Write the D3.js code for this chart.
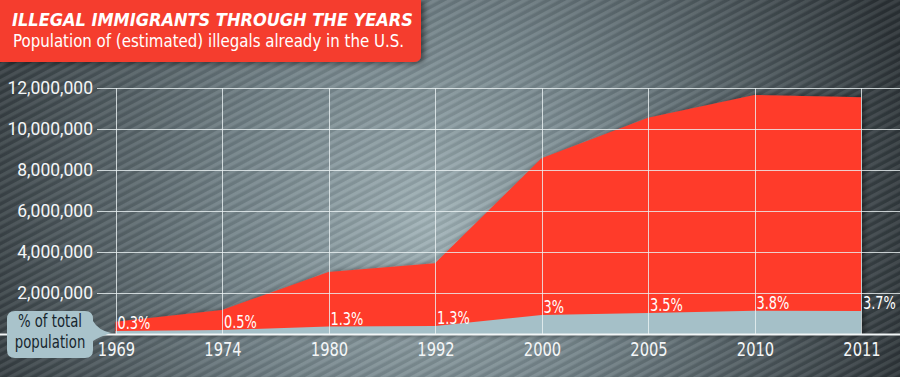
<!DOCTYPE html>
<html>
<head>
<meta charset="utf-8">
<script src="https://cdn.jsdelivr.net/npm/d3@7"></script>
<style>
    body { margin: 0; background: #3a4348; }
    svg { display: block; }
</style>
</head>
<body>
<div class="vis-area"></div>
<script>
// Data
const years = ['1969', '1974', '1980', '1992', '2000', '2005', '2010', '2011'];
const illegals = [600000, 1170000, 3030000, 3450000, 8570000, 10550000, 11660000, 11550000];
// height of the light-blue "% of total population" band, in the same units
const shareBand = [150000, 200000, 360000, 390000, 930000, 1020000, 1140000, 1120000];
const shareLabels = ['0.3%', '0.5%', '1.3%', '1.3%', '3%', '3.5%', '3.8%', '3.7%'];
const yTicks = [2000000, 4000000, 6000000, 8000000, 10000000, 12000000];

const width = 900, height = 377;
const RED = '#ff3b2c', BLUE = '#a5c0c8';
const narrow = '"DejaVu Sans Condensed", "DejaVu Sans", sans-serif';
const squeeze = 0.82; // no condensed face installed, squeeze the glyphs a bit

let svg = d3.select('.vis-area')
    .append('svg')
    .attr('width', width)
    .attr('height', height);

const defs = svg.append('defs');

// background
let bg = defs.append('radialGradient')
    .attr('id', 'bgGrad')
    .attr('gradientUnits', 'userSpaceOnUse')
    .attr('cx', 430).attr('cy', 225).attr('r', 500);
bg.append('stop').attr('offset', 0).attr('stop-color', '#a0b2b7');
bg.append('stop').attr('offset', 0.4).attr('stop-color', '#728288');
bg.append('stop').attr('offset', 1).attr('stop-color', '#2b3236');

let stripes = defs.append('pattern')
    .attr('id', 'stripes')
    .attr('patternUnits', 'userSpaceOnUse')
    .attr('width', 7).attr('height', 7)
    .attr('patternTransform', 'rotate(-28)');
stripes.append('rect')
    .attr('width', 7).attr('height', 3.5)
    .attr('fill', 'rgba(255,255,255,0.08)');
stripes.append('rect')
    .attr('y', 3.5).attr('width', 7).attr('height', 3.5)
    .attr('fill', 'rgba(0,0,0,0.07)');

let shadow = defs.append('filter').attr('id', 'shadow')
    .attr('x', '-10%').attr('y', '-10%').attr('width', '130%').attr('height', '130%');
shadow.append('feDropShadow')
    .attr('dx', 3).attr('dy', 1).attr('stdDeviation', 3)
    .attr('flood-color', '#000').attr('flood-opacity', 0.55);

svg.append('rect').attr('width', width).attr('height', height).attr('fill', 'url(#bgGrad)');
svg.append('rect').attr('width', width).attr('height', height).attr('fill', 'url(#stripes)');

// Scales
var x = d3.scalePoint()
    .domain(years)
    .range([115.5, 861]);

var y = d3.scaleLinear()
    .domain([0, 12000000])
    .range([334, 88]);

const rows = years.map((d, i) => ({ year: d, total: illegals[i], share: shareBand[i], label: shareLabels[i] }));

var redArea = d3.area()
    .x(d => x(d.year))
    .y0(y(0))
    .y1(d => y(d.total));

var blueArea = d3.area()
    .x(d => x(d.year))
    .y0(y(0))
    .y1(d => y(d.share));

svg.append('path')
    .attr('d', redArea(rows))
    .attr('fill', RED)
    .attr('filter', 'url(#shadow)');

svg.append('path')
    .attr('d', blueArea(rows))
    .attr('fill', BLUE);

// grid
let grid = svg.append('g').attr('class', 'grid')
    .attr('stroke', 'rgba(235,242,244,0.8)')
    .attr('stroke-width', 1);

grid.selectAll('.hline')
    .data(yTicks)
    .join('line')
    .attr('class', 'hline')
    .attr('x1', 97).attr('x2', width)
    .attr('y1', d => Math.round(y(d)) + 0.5)
    .attr('y2', d => Math.round(y(d)) + 0.5);

grid.selectAll('.vline')
    .data(years)
    .join('line')
    .attr('class', 'vline')
    .attr('x1', d => Math.round(x(d)) + 0.5)
    .attr('x2', d => Math.round(x(d)) + 0.5)
    .attr('y1', y(12000000))
    .attr('y2', y(0));

// baseline
svg.append('line')
    .attr('x1', 0).attr('x2', width)
    .attr('y1', y(0) + 0.5).attr('y2', y(0) + 0.5)
    .attr('stroke', '#f2f5f6')
    .attr('stroke-width', 2);

// y axis labels
svg.append('g')
    .selectAll('text')
    .data(yTicks)
    .join('text')
    .attr('x', 93)
    .attr('y', d => y(d))
    .attr('dy', '0.35em')
    .attr('text-anchor', 'end')
    .attr('fill', '#f4f6f7')
    .style('font-family', 'Roboto, sans-serif')
    .style('font-size', '17.5px')
    .text(d => d3.format(',')(d));

// x axis labels
svg.append('g')
    .selectAll('text')
    .data(years)
    .join('text')
    .attr('transform', d => 'translate(' + (x(d) + 1) + ',356) scale(' + 0.86 + ',1)')
    .attr('text-anchor', 'middle')
    .attr('fill', '#f4f6f7')
    .style('font-family', narrow)
    .style('font-size', '19px')
    .text(d => d);

// share labels
svg.append('g')
    .selectAll('text')
    .data(rows)
    .join('text')
    .attr('transform', d => 'translate(' + (x(d.year) + 2) + ',' + (y(d.share) - 2) + ') scale(' + 0.8 + ',1)')
    .attr('fill', '#fff')
    .style('font-family', narrow)
    .style('font-size', '18px')
    .text(d => d.label);

// callout
let callout = svg.append('g');
callout.append('path')
    .attr('d', 'M15,311 H85 Q93,311 93,319 L93,321 Q98,330 111,333 Q99,337 93,341 L93,350 Q93,358 85,358 H15 Q7,358 7,350 V319 Q7,311 15,311 Z')
    .attr('fill', '#a9c3cb');
callout.selectAll('text')
    .data(['% of total', 'population'])
    .join('text')
    .attr('transform', (d, i) => 'translate(50,' + (327 + i * 21) + ') scale(' + squeeze + ',1)')
    .attr('text-anchor', 'middle')
    .attr('fill', '#17262e')
    .style('font-family', narrow)
    .style('font-size', '18px')
    .text(d => d);

// title box
let titleG = svg.append('g');
titleG.append('path')
    .attr('d', 'M0,0 H421 V55 Q421,62 414,62 H0 Z')
    .attr('fill', '#f53d2d')
    .attr('filter', 'url(#shadow)');
titleG.append('text')
    .attr('x', 12).attr('y', 26)
    .attr('fill', '#fff')
    .attr('textLength', 401)
    .attr('lengthAdjust', 'spacingAndGlyphs')
    .style('font-family', narrow)
    .style('font-size', '18px')
    .style('font-weight', 'bold')
    .style('font-style', 'italic')
    .text('ILLEGAL IMMIGRANTS THROUGH THE YEARS');
titleG.append('text')
    .attr('x', 13).attr('y', 47)
    .attr('fill', '#fff')
    .attr('textLength', 391)
    .attr('lengthAdjust', 'spacingAndGlyphs')
    .style('font-family', narrow)
    .style('font-size', '18px')
    .text('Population of (estimated) illegals already in the U.S.');
</script>
</body>
</html>
